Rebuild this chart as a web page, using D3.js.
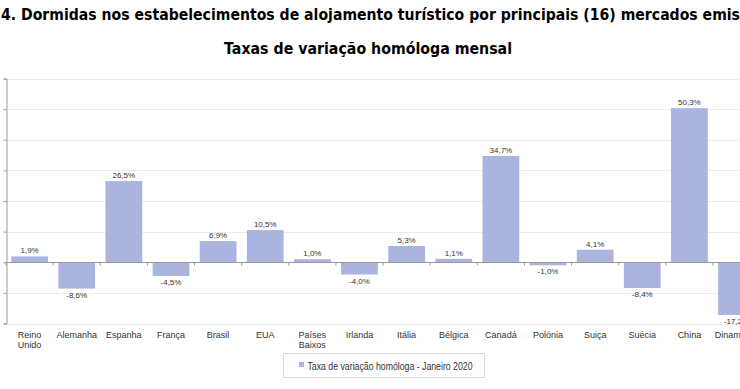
<!DOCTYPE html>
<html>
<head>
<meta charset="utf-8">
<script src="https://cdn.jsdelivr.net/npm/d3@7"></script>
<style>
    body { margin: 0; background: #fff; }
    svg { display: block; }
    .title { font-family: "DejaVu Sans", Verdana, sans-serif; font-weight: bold; font-size: 15px; fill: #000; }
    .cat { font-family: "Liberation Sans", Arial, sans-serif; font-size: 9px; fill: #333; }
    .val { font-family: "Liberation Sans", Arial, sans-serif; font-size: 8px; fill: #333; }
    .legend-text { font-family: "Liberation Sans", Arial, sans-serif; font-size: 10px; fill: #333; }
</style>
</head>
<body>
<div id="chart"></div>
<script>
const categories = ['Reino Unido', 'Alemanha', 'Espanha', 'França', 'Brasil', 'EUA', 'Países Baixos', 'Irlanda',
    'Itália', 'Bélgica', 'Canadá', 'Polónia', 'Suiça', 'Suécia', 'China', 'Dinamarca'];
const values = [1.9, -8.6, 26.5, -4.5, 6.9, 10.5, 1.0, -4.0, 5.3, 1.1, 34.7, -1.0, 4.1, -8.4, 50.3, -17.2];
const yTicks = [-20, -10, 0, 10, 20, 30, 40, 50, 60];
const seriesName = 'Taxa de variação homóloga - Janeiro 2020';
const titleLines = [
    '4. Dormidas nos estabelecimentos de alojamento turístico por principais (16) mercados emissores',
    'Taxas de variação homóloga mensal'
];

const W = 740, H = 389;
const barColor = '#aab4de';

const svg = d3.select('#chart').append('svg')
    .attr('width', W)
    .attr('height', H);

// chart is wider than the window, right side is cut off
const x = d3.scaleBand()
    .domain(categories)
    .range([6.5, 6.5 + 47.07 * categories.length])
    .paddingInner(0.22)
    .paddingOuter(0.1);

const y = d3.scaleLinear()
    .domain([-20, 60])
    .range([323.5, 78.5]);

function pct(d) {
    return d3.format('.1f')(d).replace('.', ',').replace('\u2212', '-') + '%';
}

// titles
const t1 = svg.append('text')
    .attr('class', 'title')
    .attr('x', 1)
    .attr('y', 20)
    .text(titleLines[0]);

// squeeze line 1 so that "...mercados emis" reaches the window edge
const fullW = t1.node().getComputedTextLength();
const probe = svg.append('text').attr('class', 'title')
    .text(titleLines[0].slice(0, titleLines[0].indexOf('emis') + 4));
const probeW = probe.node().getComputedTextLength();
probe.remove();
t1.attr('textLength', 739 * fullW / probeW)
    .attr('lengthAdjust', 'spacingAndGlyphs');

svg.append('text')
    .attr('class', 'title')
    .attr('x', 224)
    .attr('y', 54)
    .attr('textLength', 288)
    .attr('lengthAdjust', 'spacingAndGlyphs')
    .text(titleLines[1]);

// gridlines
svg.append('g')
    .selectAll('line')
    .data(yTicks)
    .join('line')
    .attr('x1', x.range()[0])
    .attr('x2', x.range()[1])
    .attr('y1', function(d) { return Math.round(y(d)) + 0.5; })
    .attr('y2', function(d) { return Math.round(y(d)) + 0.5; })
    .attr('stroke', '#ececec');

// left axis
const yAxis = svg.append('g')
    .attr('transform', 'translate(' + x.range()[0] + ',0)')
    .call(d3.axisLeft(y).tickValues(yTicks).tickSize(3).tickFormat(''));
yAxis.selectAll('path, line').attr('stroke', '#9a9a9a');

// bars
svg.append('g')
    .selectAll('rect')
    .data(values)
    .join('rect')
    .attr('x', function(d, i) { return x(categories[i]); })
    .attr('width', x.bandwidth())
    .attr('y', function(d) { return y(Math.max(0, d)); })
    .attr('height', function(d) { return Math.abs(y(d) - y(0)); })
    .attr('fill', barColor);

// zero line with category ticks
const zeroY = Math.round(y(0)) + 0.5;
svg.append('line')
    .attr('x1', x.range()[0])
    .attr('x2', x.range()[1])
    .attr('y1', zeroY)
    .attr('y2', zeroY)
    .attr('stroke', '#9a9a9a');

const gap = (x.step() - x.bandwidth()) / 2;
svg.append('g')
    .selectAll('line')
    .data(categories)
    .join('line')
    .attr('x1', function(d) { return x(d) - gap; })
    .attr('x2', function(d) { return x(d) - gap; })
    .attr('y1', zeroY)
    .attr('y2', zeroY + 3)
    .attr('stroke', '#9a9a9a');

// value labels
svg.append('g')
    .selectAll('text')
    .data(values)
    .join('text')
    .attr('class', 'val')
    .attr('text-anchor', 'middle')
    .attr('x', function(d, i) { return x(categories[i]) + x.bandwidth() / 2; })
    .attr('y', function(d) { return d >= 0 ? y(d) - 3 : y(d) + 9; })
    .text(pct);

// category labels
const catG = svg.append('g')
    .selectAll('text')
    .data(categories)
    .join('text')
    .attr('class', 'cat')
    .attr('text-anchor', 'middle')
    .attr('y', 337.5);

catG.each(function(d) {
    const words = d.split(' ');
    const el = d3.select(this);
    const cx = x(d) + x.bandwidth() / 2;
    words.forEach(function(w, i) {
        el.append('tspan')
            .attr('x', cx)
            .attr('dy', i === 0 ? 0 : 10.7)
            .text(w);
    });
});

// legend
const lg = svg.append('g');
lg.append('rect')
    .attr('x', 283.5)
    .attr('y', 353.5)
    .attr('width', 201)
    .attr('height', 24)
    .attr('fill', '#fff')
    .attr('stroke', '#d9d9d9');
lg.append('rect')
    .attr('x', 299)
    .attr('y', 362)
    .attr('width', 5)
    .attr('height', 5)
    .attr('fill', barColor);
lg.append('text')
    .attr('class', 'legend-text')
    .attr('x', 307.5)
    .attr('y', 369.5)
    .attr('textLength', 165)
    .attr('lengthAdjust', 'spacingAndGlyphs')
    .text(seriesName);
</script>
</body>
</html>
